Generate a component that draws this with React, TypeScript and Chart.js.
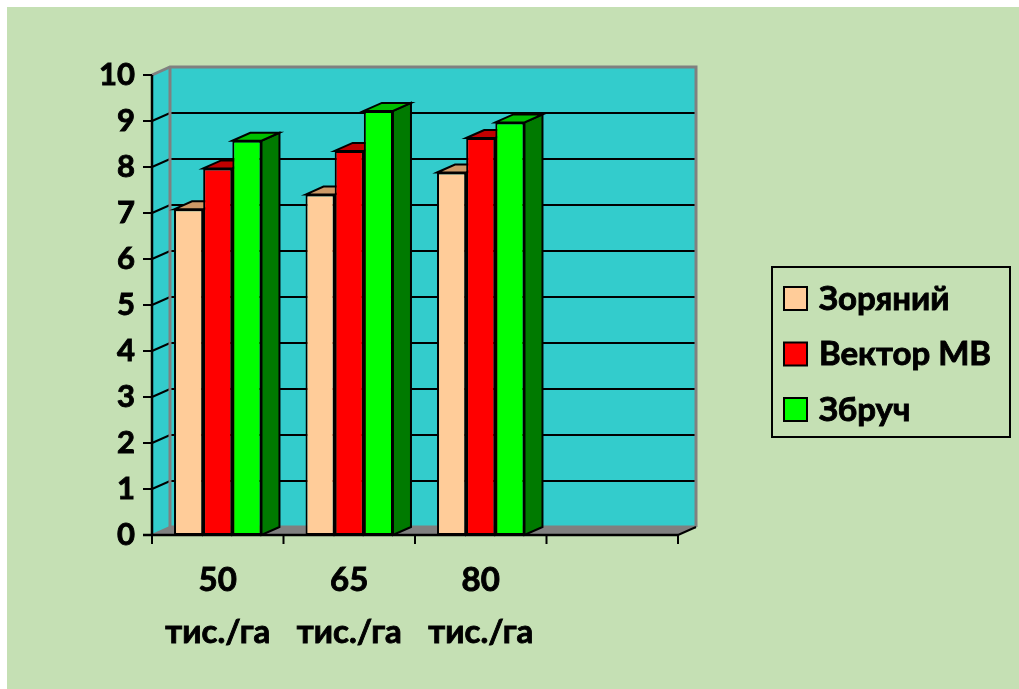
import React, { useEffect, useRef } from "react";
import { Chart, registerables } from "chart.js";

Chart.register(...registerables);

const categories: (string | string[])[] = [["50", "тис./га"], ["65", "тис./га"], ["80", "тис./га"], ""];
const seriesNames = ["Зоряний", "Вектор МВ", "Збруч"];
const zoryanyi = [7.08, 7.4, 7.88, null];
const vektorMV = [7.97, 8.35, 8.63, null];
const zbruch = [8.57, 9.22, 8.97, null];
const yTicks = [0, 1, 2, 3, 4, 5, 6, 7, 8, 9, 10];

const frontColors = ["#FFCC99", "#FF0000", "#00FF00"];
const topColors = ["#CC9966", "#C00000", "#00C000"];
const sideColors = ["#B08050", "#990000", "#007A00"];

const BG = "#C5E0B4";
const WALL = "#33CCCC";
const FONT = "Lato, 'Noto Sans', sans-serif";
const DX = 18;
const DY = -8;

const fake3d = {
  id: "fake3d",
  beforeDraw(chart: any) {
    const ctx = chart.ctx;
    ctx.save();
    ctx.fillStyle = BG;
    ctx.fillRect(0, 0, chart.width, chart.height);
    ctx.restore();
  },
  beforeDatasetsDraw(chart: any) {
    const ctx = chart.ctx;
    const { left: L, right: R, top: T, bottom: B } = chart.chartArea;
    const yS = chart.scales.y;
    ctx.save();
    ctx.fillStyle = WALL;
    ctx.beginPath();
    ctx.moveTo(L, T);
    ctx.lineTo(L + DX, T + DY);
    ctx.lineTo(L + DX, B + DY);
    ctx.lineTo(L, B);
    ctx.closePath();
    ctx.fill();
    ctx.fillRect(L + DX, T + DY, R - L, B - T);
    ctx.fillStyle = "#808080";
    ctx.beginPath();
    ctx.moveTo(L, B);
    ctx.lineTo(R, B);
    ctx.lineTo(R + DX, B + DY);
    ctx.lineTo(L + DX, B + DY);
    ctx.closePath();
    ctx.fill();
    ctx.strokeStyle = "#000";
    ctx.lineWidth = 2;
    yTicks.forEach((v) => {
      if (v === 0 || v === 10) return;
      const py = yS.getPixelForValue(v);
      ctx.beginPath();
      ctx.moveTo(L, py);
      ctx.lineTo(L + DX, py + DY);
      ctx.lineTo(R + DX, py + DY);
      ctx.stroke();
    });
    ctx.strokeStyle = "#808080";
    ctx.lineWidth = 3;
    ctx.beginPath();
    ctx.moveTo(L, T);
    ctx.lineTo(L + DX, T + DY);
    ctx.lineTo(R + DX, T + DY);
    ctx.lineTo(R + DX, B + DY);
    ctx.stroke();
    ctx.beginPath();
    ctx.moveTo(L + DX, T + DY);
    ctx.lineTo(L + DX, B + DY);
    ctx.lineTo(R + DX, B + DY);
    ctx.stroke();
    ctx.lineWidth = 2;
    ctx.beginPath();
    ctx.moveTo(L, B);
    ctx.lineTo(L + DX, B + DY);
    ctx.stroke();
    ctx.strokeStyle = "#000";
    ctx.beginPath();
    ctx.moveTo(R, B);
    ctx.lineTo(R + DX, B + DY);
    ctx.stroke();

    ctx.lineWidth = 2;
    ctx.lineJoin = "miter";
    chart.data.datasets.forEach((ds: any, i: number) => {
      const meta = chart.getDatasetMeta(i);
      meta.data.forEach((bar: any, j: number) => {
        if (ds.data[j] == null) return;
        const { x, y, base, width } = bar.getProps(["x", "y", "base", "width"], true);
        const x0 = x - width / 2;
        const x1 = x + width / 2;
        ctx.strokeStyle = "#000";
        ctx.fillStyle = sideColors[i];
        ctx.beginPath();
        ctx.moveTo(x1, y);
        ctx.lineTo(x1 + DX, y + DY);
        ctx.lineTo(x1 + DX, base + DY);
        ctx.lineTo(x1, base);
        ctx.closePath();
        ctx.fill();
        ctx.stroke();
        ctx.fillStyle = topColors[i];
        ctx.beginPath();
        ctx.moveTo(x0, y);
        ctx.lineTo(x0 + DX, y + DY);
        ctx.lineTo(x1 + DX, y + DY);
        ctx.lineTo(x1, y);
        ctx.closePath();
        ctx.fill();
        ctx.stroke();
      });
    });
    ctx.restore();
  },
  afterDatasetsDraw(chart: any) {
    const ctx = chart.ctx;
    const { left: L, right: R, top: T, bottom: B } = chart.chartArea;
    const yS = chart.scales.y;
    ctx.save();
    ctx.strokeStyle = "#000";
    ctx.lineWidth = 2.5;
    ctx.beginPath();
    ctx.moveTo(L, T);
    ctx.lineTo(L, B);
    ctx.stroke();
    ctx.beginPath();
    ctx.moveTo(L - 9, B);
    ctx.lineTo(R, B);
    ctx.stroke();
    ctx.lineWidth = 2;
    yTicks.forEach((v) => {
      const py = yS.getPixelForValue(v);
      ctx.beginPath();
      ctx.moveTo(L - 9, py);
      ctx.lineTo(L, py);
      ctx.stroke();
    });
    const n = categories.length;
    for (let k = 0; k <= n; k++) {
      const px = L + (k * (R - L)) / n;
      ctx.beginPath();
      ctx.moveTo(px, B);
      ctx.lineTo(px, B + 9);
      ctx.stroke();
    }
    ctx.restore();
  },
  afterDraw(chart: any) {
    const ctx = chart.ctx;
    ctx.save();
    const bx = 765, by = 260, bw = 238, bh = 170;
    ctx.strokeStyle = "#000";
    ctx.lineWidth = 2;
    ctx.strokeRect(bx, by, bw, bh);
    const tops = [280, 335.5, 391];
    ctx.font = `bold 33px ${FONT}`;
    ctx.textBaseline = "middle";
    ctx.textAlign = "left";
    chart.data.datasets.forEach((ds: any, i: number) => {
      ctx.fillStyle = frontColors[i];
      ctx.fillRect(777, tops[i], 23, 23);
      ctx.lineWidth = 2;
      ctx.strokeStyle = "#000";
      ctx.strokeRect(777, tops[i], 23, 23);
      ctx.fillStyle = "#000";
      ctx.fillText(ds.label, 812, tops[i] + 12);
      ctx.lineWidth = 0.9;
      ctx.strokeText(ds.label, 812, tops[i] + 12);
    });
    ctx.restore();
  },
};

export default function App() {
  const ref = useRef<HTMLCanvasElement | null>(null);
  useEffect(() => {
    if (!ref.current) return;
    const chart = new Chart(ref.current, {
      type: "bar",
      data: {
        labels: categories,
        datasets: [zoryanyi, vektorMV, zbruch].map((d, i) => ({
          label: seriesNames[i],
          data: d,
          backgroundColor: frontColors[i],
          borderColor: "#000",
          borderWidth: 2,
          borderSkipped: false,
          categoryPercentage: 0.665,
          barPercentage: 1,
        })),
      },
      options: {
        responsive: false,
        animation: false,
        layout: { padding: { top: 68, right: 341, left: 0, bottom: 0 } },
        plugins: { legend: { display: false }, tooltip: { enabled: false } },
        scales: {
          x: {
            grid: { display: false },
            border: { display: false },
            ticks: {
              color: "#000",
              padding: 11,
              maxRotation: 0,
              autoSkip: false,
              textStrokeColor: "#000",
              textStrokeWidth: 0.9,
              font: { family: FONT, size: 33, weight: "bold", lineHeight: 52 / 33 },
            },
            afterFit: (s: any) => {
              s.height = 154;
            },
          },
          y: {
            min: 0,
            max: 10,
            grid: { display: false },
            border: { display: false },
            ticks: {
              stepSize: 1,
              color: "#000",
              padding: 9,
              textStrokeColor: "#000",
              textStrokeWidth: 0.9,
              font: { family: FONT, size: 31, weight: "bold" },
            },
            afterFit: (s: any) => {
              s.width = 145;
            },
          },
        },
      },
      plugins: [fake3d],
    });
    return () => chart.destroy();
  }, []);
  return (
    <canvas
      ref={ref}
      width={1012}
      height={682}
      style={{ position: "absolute", left: 7, top: 7, display: "block" }}
    />
  );
}
